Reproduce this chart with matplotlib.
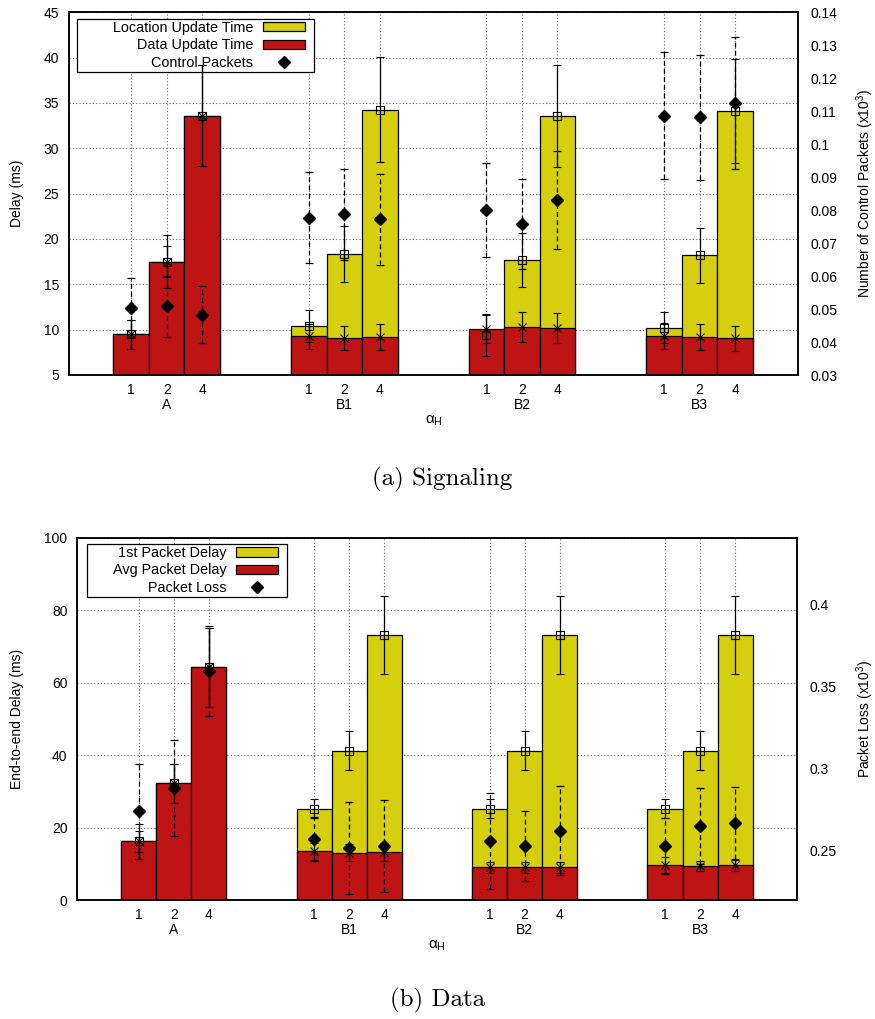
import matplotlib
matplotlib.use('Agg')
import matplotlib.pyplot as plt
from matplotlib.patches import Rectangle, Patch
from matplotlib.lines import Line2D
import numpy as np

plt.rcParams['font.family'] = ['Liberation Sans', 'DejaVu Sans']
plt.rcParams['mathtext.fontset'] = 'custom'
plt.rcParams['mathtext.rm'] = 'Liberation Sans'
plt.rcParams['mathtext.it'] = 'Liberation Sans'
plt.rcParams['mathtext.bf'] = 'Liberation Sans:bold'
plt.rcParams['font.size'] = 10

# ---------------- data ----------------
groups = ['A', 'B1', 'B2', 'B3']
alphas = ['1', '2', '4']

# (a) Signaling
loc_time = [9.5, 17.5, 33.6, 10.37, 18.36, 34.28, 9.45, 17.66, 33.59, 10.22, 18.21, 34.1]
loc_err = [1.6, 2.95, 5.6, 1.75, 3.1, 5.8, 2.3, 2.98, 5.6, 1.7, 3.05, 5.76]
data_time = [9.5, 17.5, 33.6, 9.27, 9.08, 9.16, 10.08, 10.3, 10.19, 9.27, 9.19, 9.05]
data_err = [1.6, 1.7, 5.6, 1.4, 1.37, 1.45, 1.5, 1.7, 1.68, 1.43, 1.4, 1.35]
ctrl_pkts = [0.0504, 0.0508, 0.0483, 0.0777, 0.0787, 0.0773, 0.0800, 0.0757, 0.0831, 0.1087, 0.1081, 0.1124]
ctrl_err = [0.009, 0.0093, 0.0087, 0.0138, 0.0138, 0.0138, 0.0142, 0.0136, 0.0149, 0.0194, 0.019, 0.02]
sig_left_ticks = [5, 10, 15, 20, 25, 30, 35, 40, 45]
sig_right_ticks = [0.03, 0.04, 0.05, 0.06, 0.07, 0.08, 0.09, 0.1, 0.11, 0.12, 0.13, 0.14]

# (b) Data
first_delay = [16.2, 32.2, 64.2, 25.2, 41.2, 73.2, 25.2, 41.2, 73.2, 25.2, 41.2, 73.2]
first_err = [2.85, 5.4, 10.9, 2.7, 5.4, 10.7, 2.7, 5.4, 10.7, 2.7, 5.4, 10.7]
avg_delay = [16.2, 32.2, 64.2, 13.4, 13.1, 13.25, 9.0, 9.0, 9.0, 9.66, 9.4, 9.6]
avg_err = [4.9, 5.4, 10.9, 2.4, 2.4, 2.4, 1.5, 1.5, 1.5, 2.2, 1.5, 1.5]
pkt_loss = [0.2741, 0.2881, 0.3594, 0.2571, 0.2518, 0.2530, 0.2561, 0.2530, 0.2622, 0.2532, 0.2650, 0.2670]
loss_err = [0.029, 0.029, 0.0272, 0.0135, 0.028, 0.028, 0.029, 0.021, 0.027, 0.017, 0.023, 0.022]
dat_left_ticks = [0, 20, 40, 60, 80, 100]
dat_right_ticks = [0.25, 0.3, 0.35, 0.4]

YELLOW = '#d5cf0d'
RED = '#bf1414'

n_alpha = len(alphas)
gap = 2
xpos = np.array([g * (n_alpha + gap) + j for g in range(len(groups)) for j in range(n_alpha)], dtype=float)
xlabels = [a + ('\n' + g if j == (n_alpha - 1) // 2 else '')
           for g in groups for j, a in enumerate(alphas)]

fig = plt.figure(figsize=(8.75, 10.19), dpi=100)


def panel(rect, top_v, top_e, base_v, base_e, pts, pts_e, ylim, yticks, y2lim, y2ticks,
          ylabel, y2label, labels, frame_box, anchor, ylab_x, y2lab_x):
    ax = fig.add_axes(rect)
    ax.set_axisbelow(True)
    ax.bar(xpos, top_v, width=1.0, color=YELLOW, edgecolor='black', linewidth=0.9, zorder=1)
    ax.bar(xpos, base_v, width=1.0, color=RED, edgecolor='black', linewidth=0.9, zorder=1.1)
    ax.errorbar(xpos, top_v, yerr=top_e, fmt='s', mfc='none', mec='black', ms=5.5, mew=0.8,
                ecolor='black', elinewidth=0.9, capsize=3, capthick=0.9, zorder=4)
    ax.errorbar(xpos, base_v, yerr=base_e, fmt='x', color='black', ms=5.5, mew=0.8,
                ecolor='black', elinewidth=0.9, capsize=3, capthick=0.9, zorder=4)
    ax.set_xlim(-1.75, 18.77)
    ax.set_ylim(*ylim)
    ax.set_yticks(yticks)
    ax.set_yticklabels(['%g' % t for t in yticks])
    ax.set_xticks(xpos)
    ax.set_xticklabels(xlabels, linespacing=1.08)
    ax.tick_params(axis='x', which='major', length=0, pad=6)
    ax.tick_params(axis='y', length=0, pad=7)
    ax.grid(True, which='major', linestyle=(0, (1, 2)), color='#666666', linewidth=0.8)
    for s in ax.spines.values():
        s.set_linewidth(1.1)
    ax.set_xlabel(r'$\alpha_{\mathrm{H}}$', va='center', fontsize=11)
    ax.xaxis.set_label_coords(0.5, -0.127)
    ax.set_ylabel(ylabel, va='center')
    ax.yaxis.set_label_coords(ylab_x, 0.5)

    ax2 = ax.twinx()
    eb = ax2.errorbar(xpos, pts, yerr=pts_e, fmt='D', color='black', ms=6.5,
                      ecolor='black', elinewidth=0.9, capsize=3, capthick=0.9, zorder=4)
    eb.lines[2][0].set_linestyle((0, (4, 2.5)))
    ax2.set_ylim(*y2lim)
    ax2.set_yticks(y2ticks)
    ax2.set_yticklabels(['%g' % t for t in y2ticks])
    ax2.tick_params(axis='y', length=0, pad=9)
    for s in ax2.spines.values():
        s.set_linewidth(1.1)
    ax2.set_ylabel(y2label, rotation=90, va='center')
    ax2.yaxis.set_label_coords(y2lab_x, 0.5)

    handles = [Patch(facecolor=YELLOW, edgecolor='black', linewidth=0.9),
               Patch(facecolor=RED, edgecolor='black', linewidth=0.9),
               Line2D([], [], marker='D', color='black', linestyle='none', ms=6.5)]
    leg = ax.legend(handles, labels, loc='upper right', bbox_to_anchor=anchor,
                    markerfirst=False, frameon=False, borderpad=0, borderaxespad=0,
                    fontsize=10.4,
                    handlelength=2.9, handleheight=0.6, handletextpad=0.7, labelspacing=0.24)
    leg.set_zorder(3)
    x0, y0, x1, y1 = frame_box
    ax.add_patch(Rectangle((x0, y0), x1 - x0, y1 - y0, transform=ax.transAxes,
                           facecolor='white', edgecolor='black', linewidth=0.9, zorder=2.9))
    return ax, ax2


panel([69 / 875, 1 - 375 / 1019, 729 / 875, 362.7 / 1019],
      loc_time, loc_err, data_time, data_err, ctrl_pkts, ctrl_err,
      (5, 45), sig_left_ticks, (0.03, 0.14), sig_right_ticks,
      'Delay (ms)', r'Number of Control Packets (x10$^{3}$)',
      ['Location Update Time', 'Data Update Time', 'Control Packets'],
      (0.011, 0.8354, 0.336, 0.9815), (0.3237, 0.976), -0.071, 1.092)

panel([77.3 / 875, 1 - 900 / 1019, 720 / 875, 362.3 / 1019],
      first_delay, first_err, avg_delay, avg_err, pkt_loss, loss_err,
      (0, 100), dat_left_ticks, (0.2202, 0.4403), dat_right_ticks,
      'End-to-end Delay (ms)', r'Packet Loss (x10$^{3}$)',
      ['1st Packet Delay', 'Avg Packet Delay', 'Packet Loss'],
      (0.013, 0.8363, 0.2917, 0.9818), (0.279, 0.977), -0.084, 1.094)

fig.text(0.505, 1 - 479 / 1019, '(a) Signaling', fontfamily='cmr10', fontsize=18, ha='center', va='center')
fig.text(0.5, 1 - 1000 / 1019, '(b) Data', fontfamily='cmr10', fontsize=18, ha='center', va='center')

fig.savefig('out.png', dpi=100)
